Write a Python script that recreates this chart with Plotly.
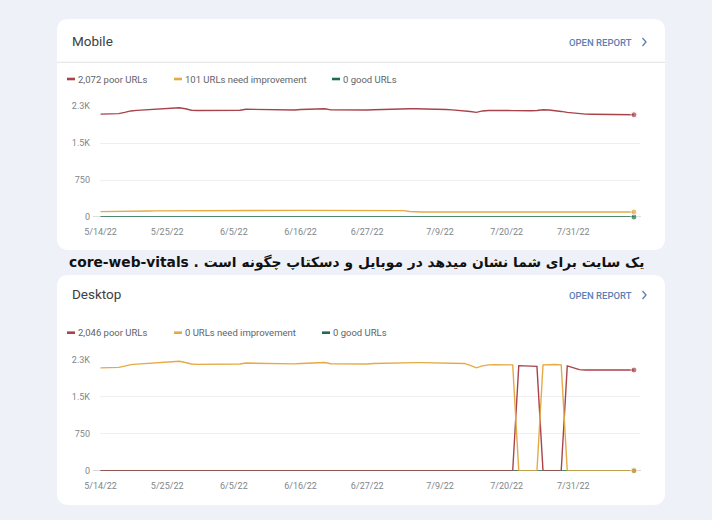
import plotly.graph_objects as go
import pandas as pd

W, H = 712, 520

# ---------------- data ----------------
start_date = "2022-05-14"

mobile_poor = [2085, 2087, 2090, 2095, 2120, 2150, 2162, 2170, 2175, 2180,
               2185, 2195, 2205, 2215, 2195, 2165, 2158, 2160, 2162, 2165,
               2165, 2170, 2175, 2165, 2185, 2182, 2180, 2178, 2176, 2175,
               2175, 2172, 2170, 2178, 2182, 2185, 2190, 2195, 2172, 2170,
               2170, 2166, 2162, 2160, 2168, 2175, 2180, 2183, 2186, 2188,
               2190, 2193, 2195, 2195, 2192, 2188, 2184, 2180, 2172, 2163,
               2155, 2138, 2120, 2150, 2158, 2162, 2165, 2160, 2156, 2152,
               2150, 2155, 2160, 2175, 2168, 2160, 2140, 2120, 2105, 2090,
               2085, 2082, 2080, 2082, 2084, 2085, 2080, 2076, 2072]
mobile_need = [108, 108, 110, 112, 115, 118, 120, 122, 123, 125,
               126, 127, 128, 128, 129, 129, 130, 130, 130, 131,
               131, 131, 132, 132, 132, 133, 133, 133, 133, 134,
               134, 134, 134, 135, 135, 135, 135, 135, 136, 136,
               136, 136, 136, 136, 136, 137, 137, 137, 137, 136,
               130, 112, 102, 101, 101, 101, 101, 101, 101, 101,
               101, 101, 101, 101, 101, 101, 101, 101, 101, 101,
               101, 101, 101, 101, 101, 101, 101, 101, 101, 101,
               101, 101, 101, 101, 101, 101, 101, 101, 101]
mobile_good = [0] * 89

desktop_poor = [0] * 69 + [2135, 2132, 2128, 2120] + [0, 0, 0, 0] + \
               [2130, 2090, 2055, 2048, 2045, 2044, 2048, 2050, 2047, 2050, 2048, 2046]
desktop_need = [2090, 2092, 2095, 2100, 2125, 2155, 2167, 2175, 2180, 2185,
                2190, 2200, 2210, 2225, 2200, 2170, 2162, 2163, 2165, 2168,
                2168, 2172, 2178, 2168, 2188, 2185, 2183, 2180, 2178, 2178,
                2178, 2175, 2172, 2180, 2185, 2188, 2192, 2198, 2175, 2172,
                2172, 2168, 2165, 2163, 2170, 2178, 2183, 2186, 2189, 2190,
                2192, 2195, 2197, 2197, 2194, 2190, 2188, 2186, 2185, 2182,
                2180, 2140, 2090, 2130, 2150, 2152, 2153, 2152, 2150,
                0, 0, 0, 0, 2150, 2162, 2160, 2150] + [0] * 12
desktop_good = [0] * 89

mobile_labels = ["2,072 poor URLs", "101 URLs need improvement", "0 good URLs"]
desktop_labels = ["2,046 poor URLs", "0 URLs need improvement", "0 good URLs"]

tick_dates = ["2022-05-14", "2022-05-25", "2022-06-05", "2022-06-16",
              "2022-06-27", "2022-07-09", "2022-07-20", "2022-07-31"]
tick_text = ["5/14/22", "5/25/22", "6/5/22", "6/16/22", "6/27/22", "7/9/22", "7/20/22", "7/31/22"]
y_tickvals = [0, 750, 1500, 2250]
y_ticktext = ["0", "750", "1.5K", "2.3K"]

caption = "core-web-vitals . یک سایت برای شما نشان میدهد در موبایل و دسکتاپ چگونه است"

# ---------------- style ----------------
C_POOR = "#a8434b"
C_NEED = "#e6aa45"
C_GOOD = "#1f6e4b"
BG = "#eef1f8"
FONT = "Roboto"

dates = pd.date_range(start_date, periods=len(mobile_poor)).strftime("%Y-%m-%d").tolist()


def X(px):
    return px / W


def Y(py):
    return 1 - py / H


def rrect(x0, y0, x1, y1, r):
    rx, ry = r, r
    return (f"M {X(x0+rx)},{Y(y0)} L {X(x1-rx)},{Y(y0)} Q {X(x1)},{Y(y0)} {X(x1)},{Y(y0+ry)} "
            f"L {X(x1)},{Y(y1-ry)} Q {X(x1)},{Y(y1)} {X(x1-rx)},{Y(y1)} "
            f"L {X(x0+rx)},{Y(y1)} Q {X(x0)},{Y(y1)} {X(x0)},{Y(y1-ry)} "
            f"L {X(x0)},{Y(y0+ry)} Q {X(x0)},{Y(y0)} {X(x0+rx)},{Y(y0)} Z")


fig = go.Figure()


def add_series(vals, color, xa, ya):
    n = len(vals)
    fig.add_trace(go.Scatter(
        x=dates, y=vals, mode="lines+markers", xaxis=xa, yaxis=ya,
        line=dict(color=color, width=1.4),
        marker=dict(color=color, size=[0] * (n - 1) + [6]),
        cliponaxis=False, showlegend=False, hoverinfo="skip"))


add_series(mobile_good, C_GOOD, "x", "y")
add_series(mobile_poor, C_POOR, "x", "y")
add_series(mobile_need, C_NEED, "x", "y")
add_series(desktop_good, C_GOOD, "x2", "y2")
add_series(desktop_poor, C_POOR, "x2", "y2")
add_series(desktop_need, C_NEED, "x2", "y2")

x_range = ["2022-05-13 22:00", "2022-08-11 00:00"]
xcommon = dict(type="date", range=x_range, tickvals=tick_dates, ticktext=tick_text,
               showgrid=False, showline=False, zeroline=False, ticks="", automargin=False,
               tickfont=dict(family=FONT, size=9, color="#80868b"), ticklabelstandoff=8,
               domain=[X(100), X(640)], fixedrange=True)
ycommon = dict(range=[0, 2250], tickvals=y_tickvals, ticktext=y_ticktext, automargin=False,
               showgrid=True, gridcolor="#efefef", gridwidth=1, zeroline=False,
               showline=False, ticks="", tickfont=dict(family=FONT, size=9, color="#80868b"),
               ticklabelstandoff=9, fixedrange=True)

shapes = [
    dict(type="path", path=rrect(57, 19, 665, 250, 12), xref="paper", yref="paper",
         fillcolor="white", line=dict(width=0), layer="below"),
    dict(type="path", path=rrect(57, 275, 665, 505, 12), xref="paper", yref="paper",
         fillcolor="white", line=dict(width=0), layer="below"),
    # divider under Mobile title
    dict(type="line", x0=X(57), x1=X(665), y0=Y(62.3), y1=Y(62.3), xref="paper", yref="paper",
         line=dict(color="#e2e2e2", width=1), layer="below"),
    # zero baselines
    dict(type="line", x0=X(93), x1=X(641), y0=0, y1=0, xref="paper", yref="y",
         line=dict(color="#bdbdbd", width=1), layer="below"),
    dict(type="line", x0=X(93), x1=X(641), y0=0, y1=0, xref="paper", yref="y2",
         line=dict(color="#bdbdbd", width=1), layer="below"),
]

annotations = []


def text(px, py, s, size, color, xanchor="left", family=FONT, weight=None):
    f = dict(family=family, size=size, color=color)
    if weight:
        f["weight"] = weight
    annotations.append(dict(x=X(px), y=Y(py), xref="paper", yref="paper", text=s,
                            showarrow=False, xanchor=xanchor, yanchor="middle", font=f,
                            borderpad=0, borderwidth=0))


def chevron(px, py):
    shapes.append(dict(type="path", xref="paper", yref="paper",
                       path=f"M {X(px)},{Y(py-4)} L {X(px+3.5)},{Y(py)} L {X(px)},{Y(py+4)}",
                       line=dict(color="#5b7fb5", width=1.3)))


def legend(py, labels, dash_x, text_x):
    for lab, col, dx, tx in zip(labels, [C_POOR, C_NEED, C_GOOD], dash_x, text_x):
        shapes.append(dict(type="rect", xref="paper", yref="paper",
                           x0=X(dx), x1=X(dx + 8), y0=Y(py - 1.3), y1=Y(py + 1.3),
                           fillcolor=col, line=dict(width=0)))
        text(tx, py, lab, 9.5, "#5f6368")


# Mobile card
text(72, 41, "Mobile", 13.5, "#3c4043")
text(569, 42, "OPEN REPORT", 9.5, "#5b7fb5", weight=500)
chevron(642.5, 42)
legend(79, mobile_labels, [67, 174, 332], [78, 185, 343])

# Desktop card
text(72, 294, "Desktop", 13.5, "#3c4043")
text(569, 295, "OPEN REPORT", 9.5, "#5b7fb5", weight=500)
chevron(642.5, 295)
legend(332.7, desktop_labels, [67, 174, 322], [78, 185, 333])

# caption
text(356, 262, caption, 13.8, "#111111", xanchor="center", family="DejaVu Sans", weight="bold")

fig.update_layout(
    width=W, height=H, margin=dict(l=0, r=0, t=0, b=0, autoexpand=False),
    paper_bgcolor=BG, plot_bgcolor="rgba(0,0,0,0)",
    xaxis=dict(xcommon, anchor="y"),
    yaxis=dict(ycommon, anchor="x", domain=[Y(217), Y(106)]),
    xaxis2=dict(xcommon, anchor="y2"),
    yaxis2=dict(ycommon, anchor="x2", domain=[Y(470.7), Y(360)]),
    shapes=shapes, annotations=annotations,
)

fig.write_html("out.html")
